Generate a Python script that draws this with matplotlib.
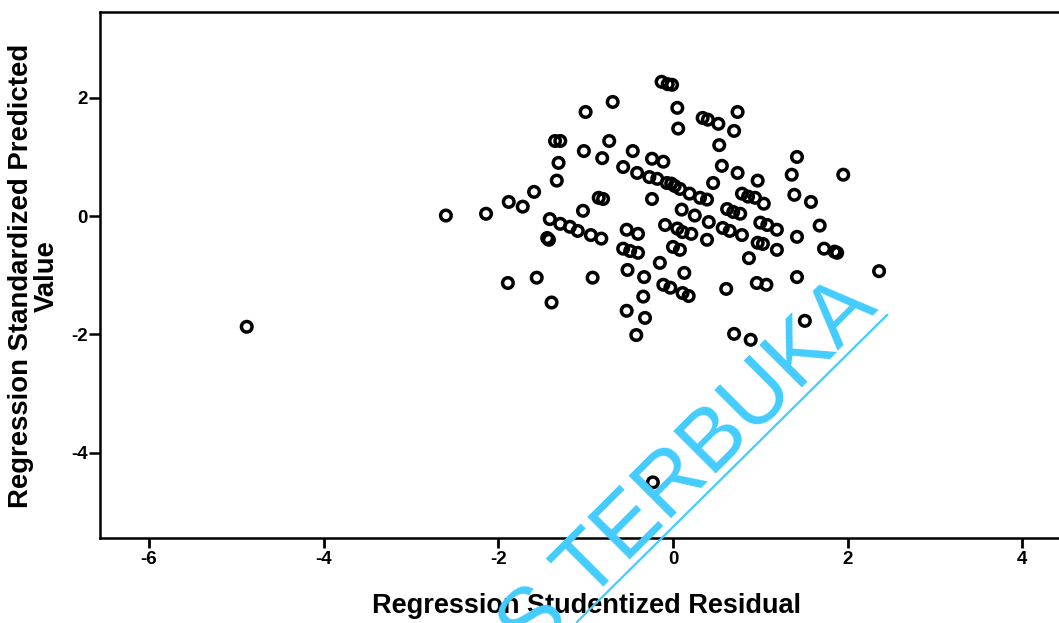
import matplotlib
matplotlib.use("Agg")
import matplotlib.pyplot as plt
from matplotlib.lines import Line2D

# Regression Studentized Residual (x) vs Regression Standardized Predicted Value (y)
resid = [
    -4.88, -2.60, -2.14, -1.88, -1.72, -1.59, -1.89, -1.56, -1.39, -1.35,
    -1.29, -1.31, -1.33, -1.41, -1.44, -1.42, -1.29, -1.18, -1.09, -0.94,
    -0.82, -1.03, -1.02, -1.00, -0.85, -0.80, -0.81, -0.69, -0.73, -0.92,
    -0.57, -0.46, -0.53, -0.40, -0.57, -0.49, -0.40, -0.15, -0.52, -0.33,
    -0.34, -0.53, -0.32, -0.42, -0.23, -0.13, -0.06, -0.01, 0.05, 0.06,
    -0.24, -0.11, -0.41, -0.27, -0.18, -0.07, -0.02, 0.02, 0.08, 0.19,
    -0.24, 0.10, 0.25, 0.41, -0.09, 0.05, 0.11, 0.21, 0.39, 0.00,
    0.08, 0.13, -0.11, -0.03, 0.11, 0.18, 0.34, 0.40, 0.52, 0.74,
    0.70, 0.53, 0.56, 0.74, 0.97, 0.46, 0.31, 0.39, 0.79, 0.86,
    0.94, 1.04, 0.62, 0.69, 0.77, 1.00, 1.08, 1.19, 0.57, 0.65,
    0.79, 0.97, 1.03, 1.19, 0.87, 0.61, 0.96, 1.07, 0.70, 0.89,
    1.42, 1.36, 1.95, 1.39, 1.58, 1.68, 1.42, 1.73, 1.85, 1.88,
    2.36, 1.42, 1.51,
]
predicted = [
    -1.87, 0.01, 0.04, 0.24, 0.16, 0.41, -1.13, -1.04, -1.46, 1.27,
    1.27, 0.90, 0.60, -0.05, -0.37, -0.40, -0.13, -0.18, -0.25, -0.32,
    -0.38, 0.09, 1.10, 1.76, 0.31, 0.29, 0.98, 1.93, 1.27, -1.04,
    0.83, 1.10, -0.23, -0.30, -0.55, -0.59, -0.62, -0.79, -0.91, -1.03,
    -1.36, -1.60, -1.72, -2.01, -4.50, 2.27, 2.23, 2.22, 1.83, 1.48,
    0.97, 0.92, 0.73, 0.66, 0.63, 0.56, 0.55, 0.51, 0.46, 0.38,
    0.29, 0.11, 0.01, -0.10, -0.15, -0.21, -0.27, -0.30, -0.40, -0.52,
    -0.57, -0.96, -1.16, -1.21, -1.30, -1.35, 1.66, 1.63, 1.56, 1.76,
    1.44, 1.20, 0.85, 0.73, 0.60, 0.56, 0.31, 0.28, 0.38, 0.33,
    0.31, 0.21, 0.12, 0.07, 0.04, -0.11, -0.15, -0.23, -0.20, -0.25,
    -0.32, -0.45, -0.47, -0.57, -0.71, -1.23, -1.13, -1.16, -1.99, -2.09,
    1.00, 0.70, 0.70, 0.36, 0.24, -0.16, -0.35, -0.55, -0.60, -0.62,
    -0.93, -1.03, -1.77,
]

x_ticks = [-6, -4, -2, 0, 2, 4]
y_ticks = [2, 0, -2, -4]
x_label = "Regression Studentized Residual"
y_label = "Regression Standardized Predicted\nValue"
watermark = "S TERBUKA"

plt.rcParams['font.family'] = ['Liberation Sans', 'DejaVu Sans']

W, H = 1059, 623
fig = plt.figure(figsize=(W / 100, H / 100), dpi=100)
ax = fig.add_axes([100 / W, 1 - 538 / H, 959 / W, 526 / H])

ax.scatter(resid, predicted, s=58, facecolors='none', edgecolors='black',
           linewidths=2.5, zorder=3)

ax.set_xlim(-6.56, 4.42)
ax.set_ylim(-5.44, 3.45)
ax.set_xticks(x_ticks)
ax.set_yticks(y_ticks)
ax.set_xticklabels([str(v) for v in x_ticks], fontsize=13.5, fontweight='bold')
ax.set_yticklabels([str(v) for v in y_ticks], fontsize=13.5, fontweight='bold')
ax.tick_params(axis='x', direction='out', length=7.5, width=2, pad=2, colors='black')
ax.tick_params(axis='y', direction='out', length=8, width=1.8, pad=1, colors='black')
ax.spines['right'].set_visible(False)
for sp in ['left', 'top', 'bottom']:
    ax.spines[sp].set_linewidth(1.8)

fig.text(587 / W, 1 - 606 / H, x_label, ha='center', va='center',
         fontsize=19.5, fontweight='bold')
fig.text(34 / W, 1 - 276 / H, y_label, ha='center', va='center',
         rotation=90, fontsize=19.8, fontweight='bold', linespacing=0.95)

# watermark
wm_color = '#44CCFF'
fig.text(880 / W, 1 - 310 / H, watermark, ha='right', va='baseline',
         rotation=45, rotation_mode='anchor', fontsize=63, color=wm_color,
         zorder=10)
fig.add_artist(Line2D([577 / W, 887 / W], [1 - 622 / H, 1 - 315 / H],
                      transform=fig.transFigure, color=wm_color, lw=1.6, zorder=10))

fig.savefig("out.png", dpi=100)
